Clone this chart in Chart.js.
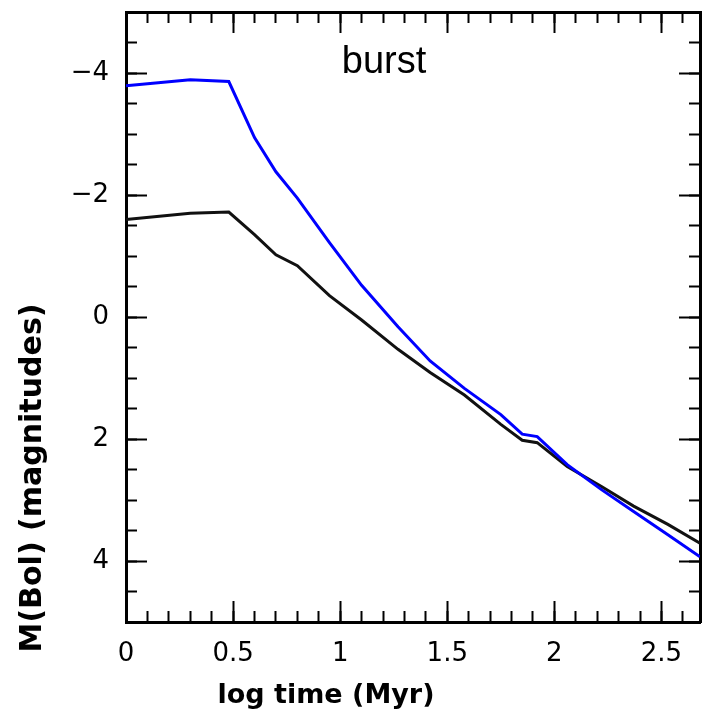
<!DOCTYPE html>
<html>
<head>
<meta charset="utf-8">
<title>burst</title>
<script src="https://cdn.jsdelivr.net/npm/chart.js@4/dist/chart.umd.min.js"></script>
<style>
  body { margin: 0; background: #fff; }
  #wrap { width: 704px; height: 715px; }
</style>
</head>
<body>
<div id="wrap"><canvas id="grafico" width="704" height="715"></canvas></div>
<script>
// valores
const logTime = [0, 0.3, 0.48, 0.6, 0.7, 0.8, 0.95, 1.1, 1.27, 1.42, 1.58, 1.75, 1.85, 1.92, 2.06, 2.22, 2.37, 2.53, 2.68];
const mBolBlue = [-3.79, -3.89, -3.86, -2.94, -2.38, -1.95, -1.22, -0.52, 0.16, 0.72, 1.17, 1.6, 1.92, 1.96, 2.42, 2.83, 3.19, 3.57, 3.93];
const mBolBlack = [-1.6, -1.7, -1.72, -1.35, -1.02, -0.84, -0.35, 0.05, 0.53, 0.91, 1.28, 1.76, 2.02, 2.06, 2.45, 2.78, 3.1, 3.4, 3.71];

// ticks
const timeTicks = [0, 0.5, 1, 1.5, 2, 2.5];
const magTicks = [-4, -2, 0, 2, 4];
const timeMin = 0, timeMax = 2.68;
const magMin = -5, magMax = 5;

const labelFont = { family: 'DejaVu Sans', size: 26 };

function pontos(xs, ys) {
    return xs.map((x, i) => ({ x: x, y: ys[i] }));
}

// eixo com ticks para dentro
function eixo(axis, position, major, opts) {
    const horiz = axis === 'x';
    const cfg = {
        type: 'linear',
        position: position,
        min: horiz ? timeMin : magMin,
        max: horiz ? timeMax : magMax,
        reverse: !horiz,
        weight: major ? 1 : 0,
        afterFit: function (s) {
            if (horiz) s.height = opts.size || 0;
            else s.width = opts.size || 0;
            // sem folga extra por causa dos labels
            s.paddingTop = 0;
            s.paddingBottom = 0;
            s.paddingLeft = 0;
            s.paddingRight = 0;
        },
        ticks: {
            display: !!opts.labels,
            includeBounds: false,
            autoSkip: false,
            maxRotation: 0,
            font: labelFont,
            color: '#000',
            padding: opts.padding || 0
        },
        grid: {
            drawOnChartArea: false,
            drawTicks: true,
            tickLength: major ? -21 : -11,
            tickWidth: 2,
            tickColor: '#000'
        },
        border: { display: major, width: 3, color: '#000' }
    };
    if (major) {
        const lista = horiz ? timeTicks : magTicks;
        cfg.afterBuildTicks = function (s) {
            s.ticks = lista.map(v => ({ value: v }));
        };
        cfg.ticks.callback = function (v) {
            if (v < 0) return '\u2212' + Math.abs(v);
            return String(v);
        };
    } else {
        cfg.ticks.stepSize = horiz ? 0.1 : 0.5;
    }
    return cfg;
}

// textos: titulo dos eixos e "burst"
const textos = {
    id: 'textos',
    afterDraw(chart) {
        const ctx = chart.ctx;
        ctx.save();
        ctx.fillStyle = '#000';
        ctx.textAlign = 'center';
        ctx.textBaseline = 'alphabetic';

        ctx.font = '38px "Liberation Sans"';
        ctx.fillText('burst', 384, 73);

        ctx.font = 'bold 27px "DejaVu Sans"';
        ctx.fillText('log time (Myr)', 326, 703);

        ctx.translate(41, 478);
        ctx.rotate(-Math.PI / 2);
        ctx.font = 'bold 30px "DejaVu Sans"';
        ctx.fillText('M(Bol) (magnitudes)', 0, 0);
        ctx.restore();
    }
};

const grafico = new Chart(document.getElementById('grafico').getContext('2d'), {
    type: 'scatter',
    data: {
        datasets: [{
            label: 'blue',
            data: pontos(logTime, mBolBlue),
            showLine: true,
            borderColor: '#0000ff',
            borderWidth: 3,
            pointRadius: 0,
            tension: 0,
            xAxisID: 'x',
            yAxisID: 'y'
        }, {
            label: 'black',
            data: pontos(logTime, mBolBlack),
            showLine: true,
            borderColor: '#111111',
            borderWidth: 3,
            pointRadius: 0,
            tension: 0,
            xAxisID: 'x',
            yAxisID: 'y'
        }]
    },
    options: {
        responsive: false,
        animation: false,
        devicePixelRatio: 1,
        layout: { padding: { top: 12, right: 4, bottom: 0, left: 0 } },
        plugins: {
            legend: { display: false },
            tooltip: { enabled: false }
        },
        scales: {
            x: eixo('x', 'bottom', true, { labels: true, size: 93, padding: 38 }),
            xMinor: eixo('x', 'bottom', false, {}),
            xTop: eixo('x', 'top', true, {}),
            xTopMinor: eixo('x', 'top', false, {}),
            y: eixo('y', 'left', true, { labels: true, size: 126, padding: 38 }),
            yMinor: eixo('y', 'left', false, {}),
            yRight: eixo('y', 'right', true, {}),
            yRightMinor: eixo('y', 'right', false, {})
        }
    },
    plugins: [textos]
});
</script>
</body>
</html>
